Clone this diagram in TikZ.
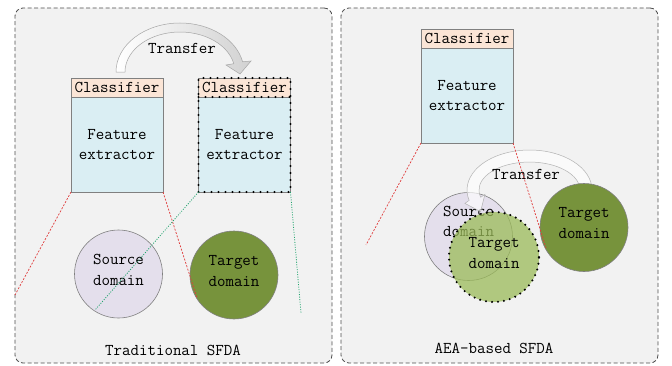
\documentclass[tikz,border=0pt]{standalone}
\usepackage{fontspec}
\definecolor{panelbg}{HTML}{F2F2F2}
\definecolor{clsfill}{HTML}{FBE5D6}
\definecolor{featfill}{HTML}{DAEEF3}
\definecolor{srcfill}{HTML}{E4DFEC}
\definecolor{tgtfill}{HTML}{77933C}
\definecolor{tgtlight}{HTML}{9BBB59}
\definecolor{redline}{HTML}{E03C3C}
\definecolor{greenline}{HTML}{22A46E}
\definecolor{boxline}{HTML}{808080}
\begin{document}
\begin{tikzpicture}[x=1pt,y=1pt,
 every node/.style={inner sep=0pt, outer sep=0pt},
 txt/.style={font=\ttfamily\fontsize{16.5}{20.5}\selectfont, align=center, text=black},
 panel/.style={draw=black!70, fill=panelbg, line width=0.8pt, dash pattern=on 4pt off 2.5pt, rounded corners=8pt, minimum width=317pt, minimum height=355pt, anchor=south west},
 clsbox/.style={txt, draw=boxline, line width=0.6pt, fill=clsfill, minimum width=92pt, minimum height=19pt},
 featbox/.style={txt, draw=boxline, line width=0.6pt, fill=featfill, minimum width=92pt, minimum height=95pt, anchor=north},
 dotbox/.style={draw=black, line width=2.4pt, dash pattern=on 0pt off 7pt, line cap=round},
 dom/.style={circle, minimum size=88pt, draw=boxline, line width=0.6pt},
 src/.style={dom, fill=srcfill},
 tgt/.style={dom, fill=tgtfill},
 tgtdot/.style={circle, minimum size=90pt, fill=tgtlight, fill opacity=0.75, draw=black, line width=2.3pt, dash pattern=on 0pt off 6pt, line cap=round},
 redl/.style={draw=redline, line width=0.7pt, dash pattern=on 2pt off 1.5pt},
 greenl/.style={draw=greenline, line width=0.8pt, dash pattern=on 1pt off 1.5pt},
 bigarrowL/.style={draw=black!35, line width=0.5pt, left color=white, right color=black!18},
 bigarrowR/.style={draw=black!30, line width=0.5pt, fill=white, fill opacity=0.65}
]
\useasboundingbox (0,0) rectangle (672,365);
% panels
\node[panel] (panL) at (15,2) {};
\node[panel] (panR) at (341,2) {};
% ---------- left panel ----------
\path[bigarrowL] (116,293) arc[start angle=180, end angle=12, x radius=64, y radius=49]
  -- (251,304) -- (240,291) -- (226,300) -- (233.8,301.3)
  arc[start angle=12, end angle=180, x radius=55, y radius=40] -- cycle;
\node[txt] (trL) at (182,317) {Transfer};
\node[clsbox] (clsL) at (117,277.5) {Classifier};
\node[featbox] (featL) at (clsL.south) {Feature\\extractor};
\node[clsbox] (clsD) at (244.5,277.5) {Classifier};
\node[featbox] (featD) at (clsD.south) {Feature\\extractor};
\draw[dotbox] (featD.south west) rectangle (clsD.north east);
\draw[dotbox] (clsD.south west) -- (clsD.south east);
\node[src] (srcL) at (118.5,91) {};
\node[txt] (srcLt) at ([yshift=4pt]srcL.center) {Source\\domain};
\node[tgt] (tgtL) at (234,90) {};
\node[txt] (tgtLt) at ([yshift=4pt]tgtL.center) {Target\\domain};
\coordinate (eL1) at (15,70);
\coordinate (eL2) at (197,67);
\coordinate (eL3) at (95,55);
\coordinate (eL4) at (301,52);
\draw[redl] (featL.south west) -- (eL1);
\draw[redl] (featL.south east) -- (eL2);
\draw[greenl] (featD.south west) -- (eL3);
\draw[greenl] (featD.south east) -- (eL4);
\node[txt] (capL) at (173,15) {Traditional SFDA};
% ---------- right panel ----------
\node[clsbox] (clsR) at (467,326.5) {Classifier};
\node[featbox] (featR) at (clsR.south) {Feature\\extractor};
\node[src] (srcR) at (468.5,128.5) {};
\node[txt] (srcRt) at (468.5,143.5) {Source\\domain};
\path[bigarrowR] (592,175) arc[start angle=0, end angle=195, x radius=62.5, y radius=40]
  -- (464.9,161.6) -- (480.6,153.4) -- (484.9,170.6) -- (480.7,167.7)
  arc[start angle=195, end angle=0, x radius=50.5, y radius=28] -- cycle;
\node[txt] (trR) at (526,191) {Transfer};
\node[tgt] (tgtR) at (584,137.5) {};
\node[txt] (tgtRt) at ([yshift=4.5pt]tgtR.center) {Target\\domain};
\node[tgtdot] (tgtD) at (494,108) {};
\node[txt] (tgtDt) at ([yshift=4pt]tgtD.center) {Target\\domain};
\coordinate (eR1) at (366,120);
\coordinate (eR2) at (546,117);
\draw[redl] (featR.south west) -- (eR1);
\draw[redl] (featR.south east) -- (eR2);
\node[txt] (capR) at (494,17) {AEA-based SFDA};
\end{tikzpicture}
\end{document}
